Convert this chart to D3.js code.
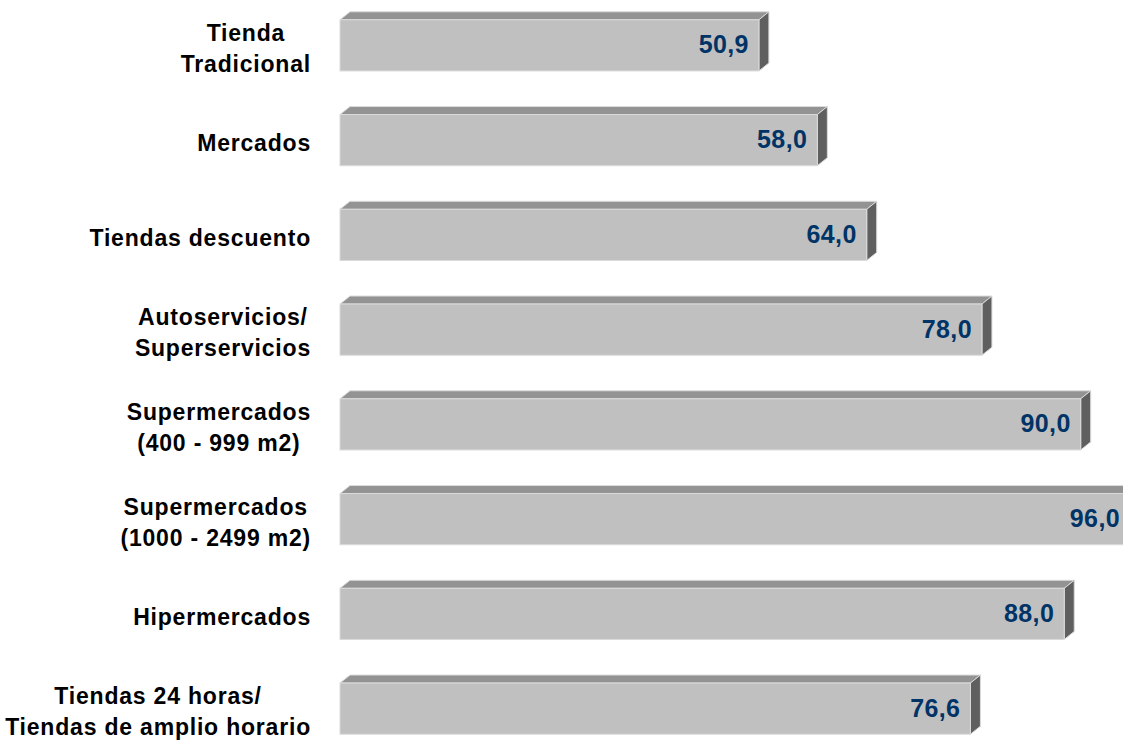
<!DOCTYPE html>
<html>
<head>
<meta charset="utf-8">
<script src="https://cdn.jsdelivr.net/npm/d3@7"></script>
<style>
  html, body { margin: 0; padding: 0; background: #ffffff; }
  svg { display: block; }
</style>
</head>
<body>
<svg id="chart" width="1123" height="742"></svg>
<script>
// Store formats and their values
const categories = [
  ["Tienda", "Tradicional"],
  ["Mercados"],
  ["Tiendas descuento"],
  ["Autoservicios/", "Superservicios"],
  ["Supermercados", "(400 - 999 m2)"],
  ["Supermercados", "(1000 - 2499 m2)"],
  ["Hipermercados"],
  ["Tiendas 24 horas/", "Tiendas de amplio horario"]
];
const values = [50.9, 58.0, 64.0, 78.0, 90.0, 96.0, 88.0, 76.6];
const valueLabels = ["50,9", "58,0", "64,0", "78,0", "90,0", "96,0", "88,0", "76,6"];

const svg = d3.select("#chart");
const keys = categories.map(c => c.join(" "));

const x = d3.scaleLinear().domain([0, 100]).range([340, 1163]);
const y = d3.scaleBand().domain(keys).range([-2, 756])
  .paddingInner(0.46).paddingOuter(0.23);

// depth of the extruded bars
const dx = 10, dy = -8;
const bw = y.bandwidth();

const rows = svg.selectAll("g.bar")
  .data(values.map((v, i) => ({ v, key: keys[i], label: valueLabels[i], lines: categories[i] })))
  .join("g")
  .attr("class", "bar");

const edge = "#dadada";

// top face
rows.append("path")
  .attr("fill", "#939393")
  .attr("stroke", edge)
  .attr("stroke-width", 1)
  .attr("d", d => {
    const x0 = x(0), x1 = x(d.v), y0 = y(d.key);
    return `M${x0},${y0}L${x0 + dx},${y0 + dy}L${x1 + dx},${y0 + dy}L${x1},${y0}Z`;
  });

// side face
rows.append("path")
  .attr("fill", "#5f5f5f")
  .attr("stroke", edge)
  .attr("stroke-width", 1)
  .attr("d", d => {
    const x1 = x(d.v), y0 = y(d.key);
    return `M${x1},${y0}L${x1 + dx},${y0 + dy}L${x1 + dx},${y0 + bw + dy}L${x1},${y0 + bw}Z`;
  });

// front face
rows.append("rect")
  .attr("fill", "#c0c0c0")
  .attr("stroke", edge)
  .attr("stroke-width", 1)
  .attr("x", x(0))
  .attr("y", d => y(d.key))
  .attr("width", d => x(d.v) - x(0))
  .attr("height", bw);

// value labels
rows.append("text")
  .attr("x", d => x(d.v) - 10)
  .attr("y", d => y(d.key) + bw / 2 + 8)
  .attr("text-anchor", "end")
  .attr("fill", "#003366")
  .style("font-family", "'Liberation Sans', Arial, sans-serif")
  .style("font-weight", "bold")
  .style("font-size", "25px")
  .style("letter-spacing", "0.4px")
  .text(d => d.label);

// category labels: each block is right-aligned at the axis, lines centred within it
const labelRight = 311, lineH = 31;
rows.each(function(d) {
  const g = d3.select(this).append("g");
  const texts = d.lines.map(l => g.append("text")
    .style("font-family", "'Liberation Sans', Arial, sans-serif")
    .style("font-weight", "bold")
    .style("font-size", "23px")
    .style("letter-spacing", "0.8px")
    .attr("fill", "#000000")
    .attr("text-anchor", "middle")
    .text(l));
  const widths = texts.map(t => t.node().getComputedTextLength());
  const maxW = d3.max(widths);
  const left = Math.max(0, labelRight - maxW);
  const cx = left + maxW / 2;
  const cy = y(d.key) + bw / 2 + 3;
  const n = d.lines.length;
  texts.forEach((t, i) => {
    t.attr("x", cx)
     .attr("y", cy + (i - (n - 1) / 2) * lineH + 8);
  });
});
</script>
</body>
</html>
